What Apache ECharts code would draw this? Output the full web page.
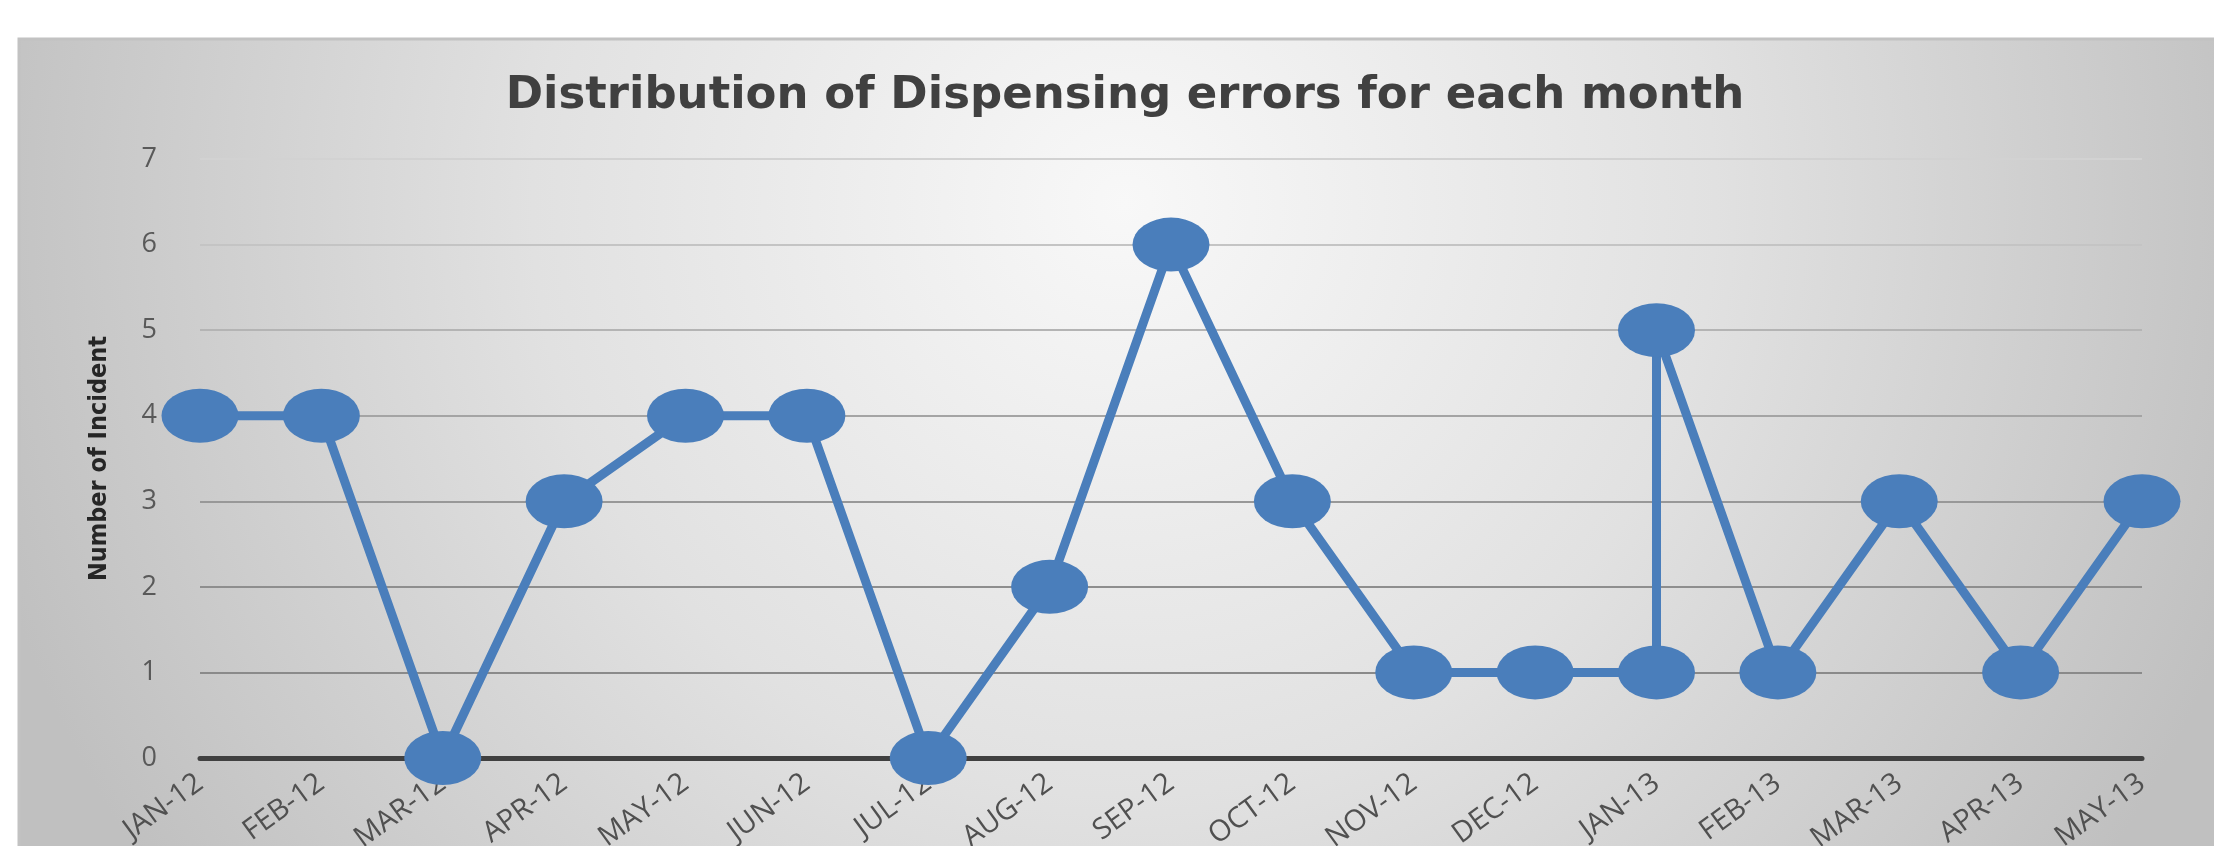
<!DOCTYPE html>
<html>
<head>
<meta charset="utf-8">
<script src="https://cdn.jsdelivr.net/npm/echarts@6/dist/echarts.min.js"></script>
<style>
html,body{margin:0;padding:0;background:#fff;}
#chart{width:2214px;height:846px;}
</style>
</head>
<body>
<div id="chart"></div>
<script>
// Data
const titleText = 'Distribution of Dispensing errors for each month';
const yAxisTitle = 'Number of Incident';
const months = ['JAN-12','FEB-12','MAR-12','APR-12','MAY-12','JUN-12','JUL-12','AUG-12','SEP-12','OCT-12','NOV-12','DEC-12','JAN-13','FEB-13','MAR-13','APR-13','MAY-13'];
// Observation month (JAN-13 has two records) and number of incidents
const obsMonths = ['JAN-12','FEB-12','MAR-12','APR-12','MAY-12','JUN-12','JUL-12','AUG-12','SEP-12','OCT-12','NOV-12','DEC-12','JAN-13','JAN-13','FEB-13','MAR-13','APR-13','MAY-13'];
const incidents = [4,4,0,3,4,4,0,2,6,3,1,1,1,5,1,3,1,3];
const yMin = 0, yMax = 7, yStep = 1;

const chart = echarts.init(document.getElementById('chart'));
const seriesData = obsMonths.map((m, i) => [m, incidents[i]]);

chart.setOption({
  backgroundColor: '#ffffff',
  animation: false,
  graphic: [{
    type: 'rect',
    z: -100,
    silent: true,
    shape: {x: 19, y: 39, width: 2210, height: 830},
    style: {
      fill: {
        type: 'radial', x: 0.5, y: 0.2, r: 1.42,
        colorStops: [
          {offset: 0, color: '#f8f8f8'},
          {offset: 0.5, color: '#e1e1e1'},
          {offset: 1, color: '#c0c0c0'}
        ]
      },
      stroke: '#c2c2c2',
      lineWidth: 3
    }
  }],
  title: {
    text: titleText,
    left: 1120,
    top: 69,
    textAlign: 'center',
    textStyle: {
      fontFamily: 'DejaVu Sans',
      fontWeight: 'bold',
      fontSize: 45,
      color: '#404040'
    }
  },
  grid: {left: 200, right: 72, top: 159, bottom: 88, containLabel: false, outerBoundsMode: 'none'},
  xAxis: {
    type: 'category',
    data: months,
    boundaryGap: false,
    axisLine: {show: true, onZero: true, lineStyle: {color: '#404040', width: 5}},
    axisTick: {show: false},
    splitLine: {show: false},
    axisLabel: {
      rotate: 36,
      margin: 22,
      fontFamily: 'Open Sans',
      fontSize: 29,
      color: '#505050',
      interval: 0
    }
  },
  yAxis: {
    type: 'value',
    min: yMin, max: yMax, interval: yStep,
    name: yAxisTitle,
    nameLocation: 'middle',
    nameRotate: 90,
    nameGap: 88,
    nameTextStyle: {
      fontFamily: 'DejaVu Sans Condensed, DejaVu Sans, sans-serif',
      fontWeight: 'bold',
      fontSize: 25,
      color: '#262626'
    },
    axisLine: {show: false},
    axisTick: {show: false},
    axisLabel: {
      margin: 43,
      fontFamily: 'Open Sans',
      fontSize: 27,
      color: '#595959'
    },
    splitLine: {
      show: true,
      lineStyle: {
        width: 2,
        color: ['rgba(0,0,0,0)', '#8a8a8a', '#8e8e8e', '#989898', '#a4a4a4', '#b4b4b4', '#c4c4c4', '#d2d2d2']
      }
    }
  },
  series: [{
    type: 'line',
    data: seriesData,
    symbol: 'circle',
    symbolSize: [77, 54],
    showAllSymbol: true,
    lineStyle: {color: '#4A7EBB', width: 9},
    itemStyle: {color: '#4A7EBB'},
    z: 5
  }]
});
</script>
</body>
</html>
